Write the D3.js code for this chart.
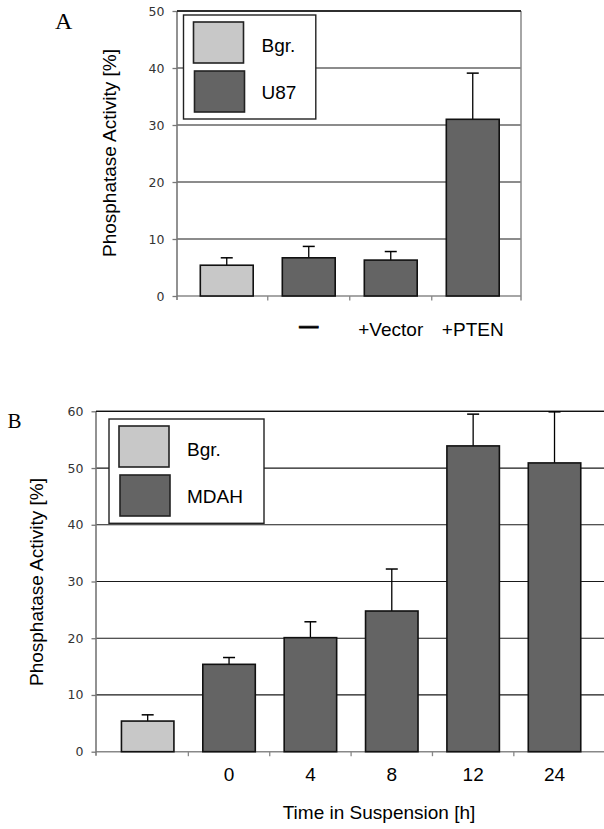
<!DOCTYPE html>
<html>
<head>
<meta charset="utf-8">
<script src="https://cdn.jsdelivr.net/npm/d3@7"></script>
<style>
  body { margin: 0; background: #fff; }
  svg { display: block; }
  text { font-family: "Liberation Sans", Arial, sans-serif; }
</style>
</head>
<body>
<div id="chart"></div>
<script>
// panel A
var categoriesA = ["Bgr", "none", "vector", "pten"];
var tickLabelsA = ["", "\u2014", "+Vector", "+PTEN"];
var groupsA = ["Bgr.", "U87", "U87", "U87"];
var valuesA = [5.4, 6.7, 6.3, 31.0];
var errorsA = [1.3, 2.0, 1.5, 8.1];
var legendA = ["Bgr.", "U87"];
var yTicksA = [0, 10, 20, 30, 40, 50];

// panel B
var categoriesB = ["Bgr", "0", "4", "8", "12", "24"];
var tickLabelsB = ["", "0", "4", "8", "12", "24"];
var groupsB = ["Bgr.", "MDAH", "MDAH", "MDAH", "MDAH", "MDAH"];
var valuesB = [5.4, 15.4, 20.1, 24.8, 53.9, 50.9];
var errorsB = [1.1, 1.2, 2.8, 7.4, 5.6, 9.0];
var legendB = ["Bgr.", "MDAH"];
var yTicksB = [0, 10, 20, 30, 40, 50, 60];

var light = "#c8c8c8", dark = "#646464";

var svg = d3.select("#chart").append("svg")
    .attr("width", 604).attr("height", 829);

function drawPanel(o) {
    var g = svg.append("g");
    var n = o.cats.length;
    var x = d3.scaleBand().domain(o.cats).range(o.xRange)
        .paddingInner(0.355).paddingOuter(0.1775);
    var y = d3.scaleLinear().domain([0, o.yMax]).range(o.yRange);
    var color = function (grp) { return grp === "Bgr." ? light : dark; };

    // gridlines
    g.selectAll(".grid").data(o.yTicks.slice(1)).enter().append("line")
        .attr("x1", o.left).attr("x2", o.right)
        .attr("y1", d => y(d)).attr("y2", d => y(d))
        .attr("stroke", "#1a1a1a").attr("stroke-width", 1.2);

    // right border
    if (o.rightBorder) {
        g.append("line").attr("x1", o.right).attr("x2", o.right)
            .attr("y1", y(o.yMax)).attr("y2", y(0) + 4.5)
            .attr("stroke", "#888").attr("stroke-width", 1.5);
    }

    // x axis
    g.append("line").attr("x1", o.left).attr("x2", o.right)
        .attr("y1", y(0)).attr("y2", y(0))
        .attr("stroke", "#888").attr("stroke-width", 1.6);
    var bounds = d3.range(1, n).map(i => x.step() * i + o.xRange[0]);
    g.selectAll(".xt").data(bounds).enter().append("line")
        .attr("x1", d => d).attr("x2", d => d)
        .attr("y1", y(0)).attr("y2", y(0) + 4.5)
        .attr("stroke", "#888").attr("stroke-width", 1.3);

    // y axis
    var yAxis = d3.axisLeft(y).tickValues(o.yTicks).tickSize(4.5).tickPadding(8);
    var ya = g.append("g").attr("transform", "translate(" + o.left + ",0)").call(yAxis);
    ya.select(".domain").remove();
    ya.append("line").attr("x1", 0).attr("x2", 0)
        .attr("y1", y(o.yMax)).attr("y2", y(0) + 4)
        .attr("stroke", "#777").attr("stroke-width", 1.6);
    ya.selectAll(".tick line").attr("stroke", "#777").attr("stroke-width", 1.3);
    ya.selectAll(".tick text")
        .style("font-family", "'DejaVu Sans', Verdana, sans-serif")
        .style("font-size", "12.5px").attr("fill", "#333");

    // top border
    g.append("line").attr("x1", o.left).attr("x2", o.right)
        .attr("y1", y(o.yMax)).attr("y2", y(o.yMax))
        .attr("stroke", "#111").attr("stroke-width", 1.3);

    // error bars
    var eb = g.selectAll(".err").data(o.values).enter().append("g");
    eb.append("line")
        .attr("x1", (d, i) => x(o.cats[i]) + x.bandwidth() / 2)
        .attr("x2", (d, i) => x(o.cats[i]) + x.bandwidth() / 2)
        .attr("y1", d => y(d)).attr("y2", (d, i) => y(d + o.errors[i]))
        .attr("stroke", "#000").attr("stroke-width", 1.3);
    eb.append("line")
        .attr("x1", (d, i) => x(o.cats[i]) + x.bandwidth() / 2 - 6)
        .attr("x2", (d, i) => x(o.cats[i]) + x.bandwidth() / 2 + 6)
        .attr("y1", (d, i) => y(d + o.errors[i])).attr("y2", (d, i) => y(d + o.errors[i]))
        .attr("stroke", "#000").attr("stroke-width", 1.5);

    // bars
    g.selectAll(".bar").data(o.values).enter().append("rect")
        .attr("x", (d, i) => x(o.cats[i]))
        .attr("width", x.bandwidth())
        .attr("y", d => y(d))
        .attr("height", d => y(0) - y(d))
        .attr("fill", (d, i) => color(o.groups[i]))
        .attr("stroke", "#111").attr("stroke-width", 1.6);

    // category labels
    g.selectAll(".xl").data(o.tickLabels).enter().append("text")
        .attr("x", (d, i) => x(o.cats[i]) + x.bandwidth() / 2)
        .attr("y", o.labelY)
        .attr("text-anchor", "middle")
        .style("font-size", "19px")
        .style("font-weight", d => d === "\u2014" ? "bold" : null)
        .attr("stroke", d => d === "\u2014" ? "#000" : null)
        .attr("stroke-width", d => d === "\u2014" ? 0.8 : null)
        .attr("dy", d => d === "\u2014" ? "-0.2em" : null)
        .text(d => d);

    // legend
    var L = o.legend;
    g.append("rect").attr("x", L.x).attr("y", L.y).attr("width", L.w).attr("height", L.h)
        .attr("fill", "#fff").attr("stroke", "#222").attr("stroke-width", 1.4);
    o.legendNames.forEach(function (name, i) {
        g.append("rect")
            .attr("x", L.x + 10 + i).attr("y", L.y + 7 + i * 49)
            .attr("width", 50).attr("height", 41)
            .attr("fill", i === 0 ? light : dark)
            .attr("stroke", "#222").attr("stroke-width", 1.6);
        g.append("text")
            .attr("x", L.x + 78).attr("y", L.y + 37 + i * 46.5)
            .style("font-size", "19px").text(name);
    });

    // y title
    g.append("text")
        .attr("transform", "translate(" + o.titleX + "," + o.titleY + ") rotate(-90)")
        .attr("text-anchor", "middle")
        .style("font-size", "19px")
        .text("Phosphatase Activity [%]");

    // panel letter
    g.append("text").attr("x", o.letter.x).attr("y", o.letter.y)
        .style("font-family", "'Liberation Serif', 'Times New Roman', serif")
        .style("font-size", o.letter.size + "px")
        .text(o.letter.t);

    if (o.xTitle) {
        g.append("text").attr("x", o.xTitle.x).attr("y", o.xTitle.y)
            .attr("text-anchor", "middle").style("font-size", "19px")
            .text(o.xTitle.t);
    }
}

drawPanel({
    cats: categoriesA, tickLabels: tickLabelsA, groups: groupsA,
    values: valuesA, errors: errorsA, legendNames: legendA, yTicks: yTicksA,
    yMax: 50, yRange: [296, 11], xRange: [185.75, 513.75],
    left: 177, right: 521, rightBorder: true, labelY: 336,
    legend: { x: 183.5, y: 15, w: 132.3, h: 104 },
    titleX: 116, titleY: 153,
    letter: { t: "A", x: 55, y: 28.5, size: 24 }
});

drawPanel({
    cats: categoriesB, tickLabels: tickLabelsB, groups: groupsB,
    values: valuesB, errors: errorsB, legendNames: legendB, yTicks: yTicksB,
    yMax: 60, yRange: [751.7, 411.3], xRange: [107, 595.2],
    left: 96, right: 604, rightBorder: false, labelY: 781,
    legend: { x: 109, y: 419, w: 155, h: 104.3 },
    titleX: 43, titleY: 582,
    letter: { t: "B", x: 7.5, y: 428, size: 21 },
    xTitle: { t: "Time in Suspension [h]", x: 379, y: 819 }
});
</script>
</body>
</html>
